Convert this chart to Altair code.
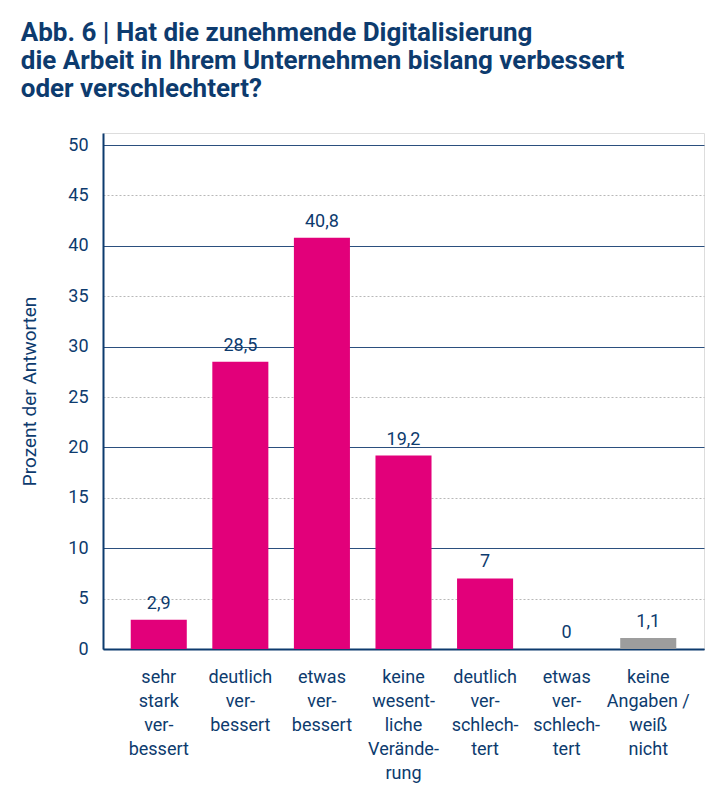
import altair as alt
import pandas as pd

categories = [
    "sehr|stark|ver-|bessert",
    "deutlich|ver-|bessert",
    "etwas|ver-|bessert",
    "keine|wesent-|liche|Verände-|rung",
    "deutlich|ver-|schlech-|tert",
    "etwas|ver-|schlech-|tert",
    "keine|Angaben /|weiß|nicht",
]
values = [2.9, 28.5, 40.8, 19.2, 7, 0, 1.1]
groups = ["a", "a", "a", "a", "a", "a", "b"]

df = pd.DataFrame({"cat": categories, "value": values, "grp": groups})

NAVY = "#0d3b6e"
MAGENTA = "#e2007a"
GREY = "#9d9d9d"
FONT = "Roboto"

x_enc = alt.X(
    "cat:N",
    sort=None,
    scale=alt.Scale(paddingInner=0.313, paddingOuter=0.34),
    axis=alt.Axis(
        title=None,
        labelAngle=0,
        labelExpr="split(datum.label, '|')",
        labelFont=FONT,
        labelFontSize=18,
        labelColor=NAVY,
        labelLineHeight=24,
        labelPadding=19,
        labelBaseline="top",
        ticks=False,
        domainColor=NAVY,
        domainWidth=2,
        grid=False,
    ),
)

y_scale = alt.Scale(domain=[0, 51.2], nice=False)

bars = alt.Chart(df).mark_bar().encode(
    x=x_enc,
    y=alt.Y(
        "value:Q",
        scale=y_scale,
        axis=alt.Axis(
            title="Prozent der Antworten",
            titleFont=FONT,
            titleFontSize=19,
            titleFontWeight="normal",
            titleColor=NAVY,
            titlePadding=28,
            values=list(range(0, 51, 5)),
            labelFont=FONT,
            labelFontSize=18,
            labelColor=NAVY,
            labelPadding=15,
            ticks=False,
            domainColor=NAVY,
            domainWidth=2,
            grid=True,
            gridColor={"condition": {"test": "datum.value % 10 === 0", "value": "#2b4f7e"}, "value": "#b8b8b8"},
            gridDash={"condition": {"test": "datum.value % 10 === 0", "value": []}, "value": [2, 2]},
            gridWidth=1,
        ),
    ),
    color=alt.Color("grp:N", scale=alt.Scale(domain=["a", "b"], range=[MAGENTA, GREY]), legend=None),
)

labels = alt.Chart(df).transform_calculate(
    lab="replace(toString(datum.value), '.', ',')"
).mark_text(
    font=FONT, fontSize=18, color=NAVY, baseline="alphabetic", dy=-11
).encode(
    x=alt.X("cat:N", sort=None),
    y=alt.Y("value:Q", scale=y_scale),
    text="lab:N",
)

chart = (
    alt.layer(bars, labels)
    .properties(
        width=601,
        height=516,
        title=alt.TitleParams(
            text=[
                "Abb. 6 | Hat die zunehmende Digitalisierung",
                "die Arbeit in Ihrem Unternehmen bislang verbessert",
                "oder verschlechtert?",
            ],
            anchor="start",
            frame="bounds",
            font=FONT,
            fontSize=26,
            fontWeight="bold",
            color=NAVY,
            lineHeight=28,
            offset=31,
        ),
        padding={"left": 12, "top": 12, "right": 2, "bottom": 5},
    )
    .configure_view(stroke=None)
    .configure(background="white")
)

chart.save("out.html", embed_options={"renderer": "svg", "actions": False})
